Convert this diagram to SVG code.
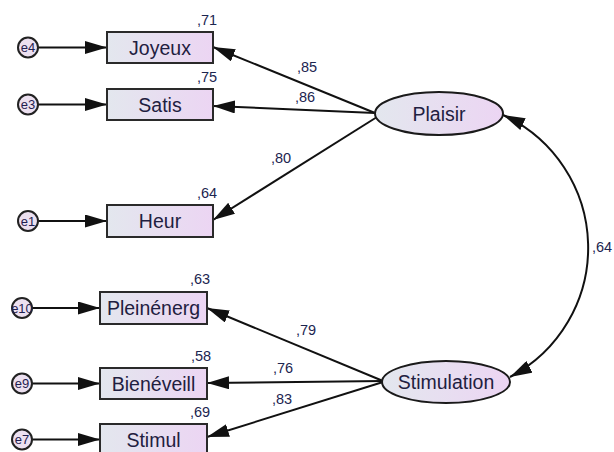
<svg xmlns="http://www.w3.org/2000/svg" width="614" height="452" viewBox="0 0 614 452">
<defs>
<linearGradient id="g" x1="0" y1="0" x2="1" y2="0">
<stop offset="0" stop-color="#e3e7ee"/>
<stop offset="1" stop-color="#ecd5f3"/>
</linearGradient>
<marker id="ah" markerUnits="userSpaceOnUse" markerWidth="24" markerHeight="13" refX="22" refY="6.5" orient="auto-start-reverse">
<path d="M0,0 L22,6.5 L0,13 z" fill="#111"/>
</marker>
<style>
.box{fill:url(#g);stroke:#2a2a2a;stroke-width:2}
.lat{fill:url(#g);stroke:#1a1a1a;stroke-width:2}
.err{fill:#ece0f0;stroke:#222;stroke-width:2}
.t{font-family:"Liberation Sans",Arial,sans-serif;font-size:19.5px;fill:#1f2040;text-anchor:middle}
.et{font-family:"Liberation Sans",Arial,sans-serif;font-size:13px;fill:#1f2050;text-anchor:middle}
.n{font-family:"Liberation Sans",Arial,sans-serif;font-size:14.5px;fill:#1c2550}
.c{fill:none;stroke:#111;stroke-width:2;marker-end:url(#ah)}
</style>
</defs>
<g id="connectors">
<line class="c" x1="38" y1="47.5" x2="107" y2="47.5"/>
<line class="c" x1="38" y1="104.5" x2="107" y2="104.5"/>
<line class="c" x1="38" y1="221" x2="107" y2="221"/>
<line class="c" x1="32" y1="308" x2="100" y2="308"/>
<line class="c" x1="32" y1="383.5" x2="100" y2="383.5"/>
<line class="c" x1="32" y1="439.5" x2="100" y2="439.5"/>
<line class="c" x1="375" y1="113" x2="213" y2="47"/>
<line class="c" x1="375" y1="113" x2="213" y2="106"/>
<line class="c" x1="377" y1="117" x2="213" y2="220"/>
<line class="c" x1="383" y1="381" x2="207" y2="308"/>
<line class="c" x1="383" y1="381" x2="207" y2="383"/>
<line class="c" x1="383" y1="382" x2="207" y2="437"/>
<path class="c" d="M503,115 A146,146 0 0 1 510,377" style="marker-start:url(#ah)"/>
<text class="n" x="297" y="72">,85</text>
<text class="n" x="295" y="102">,86</text>
<text class="n" x="271" y="163">,80</text>
<text class="n" x="296" y="335">,79</text>
<text class="n" x="273" y="373">,76</text>
<text class="n" x="272" y="404">,83</text>
<text class="n" x="592" y="252">,64</text>
</g>
<g id="Joyeux">
<rect class="box" x="107" y="32" width="106" height="31"/>
<text class="t" x="160" y="54.5">Joyeux</text>
<text class="n" x="197" y="25">,71</text>
</g>
<g id="Satis">
<rect class="box" x="107" y="89" width="106" height="31"/>
<text class="t" x="160" y="111.5">Satis</text>
<text class="n" x="197" y="82">,75</text>
</g>
<g id="Heur">
<rect class="box" x="107" y="205" width="106" height="32"/>
<text class="t" x="160" y="228">Heur</text>
<text class="n" x="197" y="198">,64</text>
</g>
<g id="Pleinenerg">
<rect class="box" x="100" y="292" width="107" height="32"/>
<text class="t" x="153.5" y="315">Pleinénerg</text>
<text class="n" x="190" y="284">,63</text>
</g>
<g id="Bieneveill">
<rect class="box" x="100" y="368" width="107" height="31"/>
<text class="t" x="153.5" y="390.5">Bienéveill</text>
<text class="n" x="191" y="361">,58</text>
</g>
<g id="Stimul">
<rect class="box" x="100" y="424" width="107" height="31"/>
<text class="t" x="153.5" y="446.5">Stimul</text>
<text class="n" x="190" y="417">,69</text>
</g>
<g id="Plaisir">
<ellipse class="lat" cx="439" cy="113.5" rx="64" ry="21.5"/>
<text class="t" x="439" y="120.5">Plaisir</text>
</g>
<g id="Stimulation">
<ellipse class="lat" cx="446" cy="382" rx="64" ry="21"/>
<text class="t" x="446" y="389">Stimulation</text>
</g>
<g id="e4"><circle class="err" cx="28" cy="47.5" r="10"/><text class="et" x="28" y="52">e4</text></g>
<g id="e3"><circle class="err" cx="28" cy="104.5" r="10"/><text class="et" x="28" y="109">e3</text></g>
<g id="e1"><circle class="err" cx="28" cy="221" r="10"/><text class="et" x="28" y="225.5">e1</text></g>
<g id="e10"><circle class="err" cx="22" cy="308" r="10"/><text class="et" x="22" y="312.5">e10</text></g>
<g id="e9"><circle class="err" cx="22" cy="383.5" r="10"/><text class="et" x="22" y="388">e9</text></g>
<g id="e7"><circle class="err" cx="22" cy="439.5" r="10"/><text class="et" x="22" y="444">e7</text></g>
</svg>
